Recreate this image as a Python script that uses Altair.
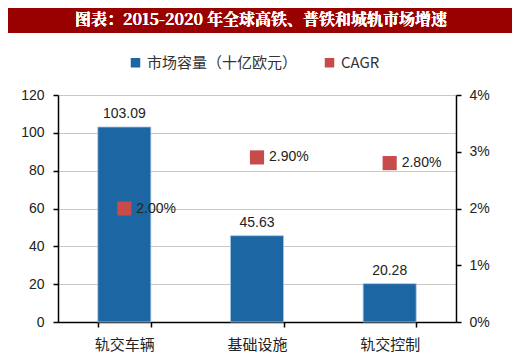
import altair as alt
import pandas as pd

categories = ["轨交车辆", "基础设施", "轨交控制"]
market = [103.09, 45.63, 20.28]
cagr = [0.020, 0.029, 0.028]
series_names = ["市场容量（十亿欧元）", "CAGR"]
title_text = "图表：2015-2020 年全球高铁、普铁和城轨市场增速"
left_ticks = [0, 20, 40, 60, 80, 100, 120]
right_ticks = [0, 0.01, 0.02, 0.03, 0.04]

df = pd.DataFrame({"cat": categories, "market": market, "cagr": cagr,
                   "s1": series_names[0], "s2": series_names[1]})

FONT = "Noto Sans CJK SC"
NUMFONT = "Liberation Sans"
BLUE = "#1c66a4"
RED = "#c84b4b"

color_scale = alt.Scale(domain=series_names, range=[BLUE, RED])
legend = alt.Legend(title=None, orient="none", legendX=70, legendY=-40,
                    direction="horizontal", symbolType="square", symbolSize=90,
                    labelFont=FONT, labelFontSize=15, labelColor="#333333",
                    columnPadding=24, symbolStrokeWidth=0)

x_axis = alt.Axis(labelAngle=0, labelFont=FONT, labelFontSize=15, labelColor="#222222",
                  domainColor="#000000", domainWidth=1.5, tickBand="extent",
                  tickColor="#000000", tickWidth=1.5, tickSize=5, labelPadding=10)
x_scale = alt.Scale(paddingInner=0.6, paddingOuter=0.3)
x = alt.X("cat:N", sort=categories, title=None, scale=x_scale, axis=x_axis)

yl_axis = alt.Axis(values=left_ticks, tickCount=7, labelOverlap=False, labelFont=NUMFONT,
                   labelFontSize=14, labelColor="#222222", domainColor="#000000",
                   domainWidth=1.5, tickColor="#000000", tickWidth=1.5, tickSize=5,
                   gridColor="#c8c8c8", gridWidth=1.2, labelPadding=9)
yl_scale = alt.Scale(domain=[0, 120], nice=False)

bars = alt.Chart(df).mark_bar(stroke="#a9c8e6", strokeWidth=0.8).encode(
    x=x, y=alt.Y("market:Q", title=None, scale=yl_scale, axis=yl_axis),
    color=alt.Color("s1:N", scale=color_scale, legend=legend))
bar_text = alt.Chart(df).mark_text(dy=-13, font=NUMFONT, fontSize=14, color="#222222").encode(
    x=x, y=alt.Y("market:Q", title=None, scale=yl_scale, axis=yl_axis),
    text=alt.Text("market:Q", format=".2f"))
left = alt.layer(bars, bar_text)

yr_axis = alt.Axis(orient="right", values=right_ticks, tickCount=5, format=".0%",
                   labelOverlap=False,
                   labelFont=NUMFONT, labelFontSize=14, labelColor="#222222",
                   domainColor="#000000", domainWidth=1.5, tickColor="#000000",
                   tickWidth=1.5, tickSize=5, grid=False, labelPadding=8)
yr_scale = alt.Scale(domain=[0, 0.04], nice=False)
pts = alt.Chart(df).mark_point(shape="square", filled=True, size=200, opacity=1).encode(
    x=x, y=alt.Y("cagr:Q", title=None, scale=yr_scale, axis=yr_axis),
    color=alt.Color("s2:N", scale=color_scale, legend=legend))
pt_text = alt.Chart(df).mark_text(align="left", dx=12, font=NUMFONT, fontSize=14, color="#222222").encode(
    x=x, y=alt.Y("cagr:Q", title=None, scale=yr_scale, axis=yr_axis),
    text=alt.Text("cagr:Q", format=".2%"))
right = alt.layer(pts, pt_text)

banner = alt.Chart(df).mark_rect(color="#990000", clip=False).encode(
    x=alt.value(-54), x2=alt.value(459), y=alt.value(-87), y2=alt.value(-62))
banner_text = alt.Chart(df).mark_text(text=title_text, color="white", font="Noto Serif CJK SC, Noto Sans CJK SC",
                                      fontWeight="bold", fontSize=16, clip=False).encode(
    x=alt.value(203), y=alt.value(-75))

chart = alt.layer(left, right, banner, banner_text).resolve_scale(y="independent", color="shared").properties(
    width=398, height=227,
    autosize=alt.AutoSizeParams(type="none"),
    padding={"left": 50, "top": 87, "right": 56, "bottom": 30},
    background="white",
).configure_view(stroke=None)

chart.save("out.html", embed_options={"renderer": "svg", "actions": False})
